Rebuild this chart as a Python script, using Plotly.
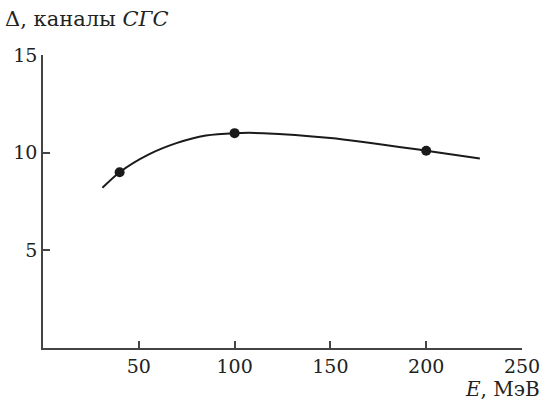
import plotly.graph_objects as go

# Measured points
energy = [40, 100, 200]
delta = [9.0, 11.0, 10.1]

# Smooth fitted curve through the measurements
curve_e = [31, 40, 55, 70, 85, 100, 115, 150, 200, 228]
curve_d = [8.2, 9.0, 9.9, 10.5, 10.88, 11.0, 11.0, 10.75, 10.1, 9.7]

x_ticks = [50, 100, 150, 200, 250]
y_ticks = [5, 10, 15]

font = "DejaVu Serif"
fig = go.Figure()
fig.add_trace(go.Scatter(x=curve_e, y=curve_d, mode="lines",
                         line=dict(color="#1a1a1a", width=2, shape="spline", smoothing=0.8),
                         hoverinfo="skip", showlegend=False))
fig.add_trace(go.Scatter(x=energy, y=delta, mode="markers",
                         marker=dict(color="#1a1a1a", size=10),
                         showlegend=False))

fig.update_layout(
    width=552, height=408,
    margin=dict(l=43, r=22, t=55, b=60),
    paper_bgcolor="white", plot_bgcolor="white",
    font=dict(family=font, size=19, color="#222"),
    xaxis=dict(range=[0, 250], tickvals=x_ticks, ticks="inside", ticklen=7,
               tickcolor="#444", tickwidth=1.5, showline=True, linecolor="#444",
               linewidth=1.5, showgrid=False, zeroline=False),
    yaxis=dict(range=[0, 15], tickvals=y_ticks, ticks="inside", ticklen=7,
               tickcolor="#444", tickwidth=1.5, showline=True, linecolor="#444",
               linewidth=1.5, showgrid=False, zeroline=False),
    annotations=[
        dict(text="Δ, каналы <i>СГС</i>", xref="paper", yref="paper",
             x=-43/487, xshift=2, y=1.0, yshift=22, xanchor="left", yanchor="bottom",
             showarrow=False, font=dict(family=font, size=21, color="#222")),
        dict(text="<i>E</i>, МэВ", xref="paper", yref="paper",
             x=1.0, y=0, yshift=-27, xshift=20, xanchor="right", yanchor="top",
             showarrow=False, font=dict(family=font, size=20, color="#222")),
    ],
)

fig.write_html("out.html")
